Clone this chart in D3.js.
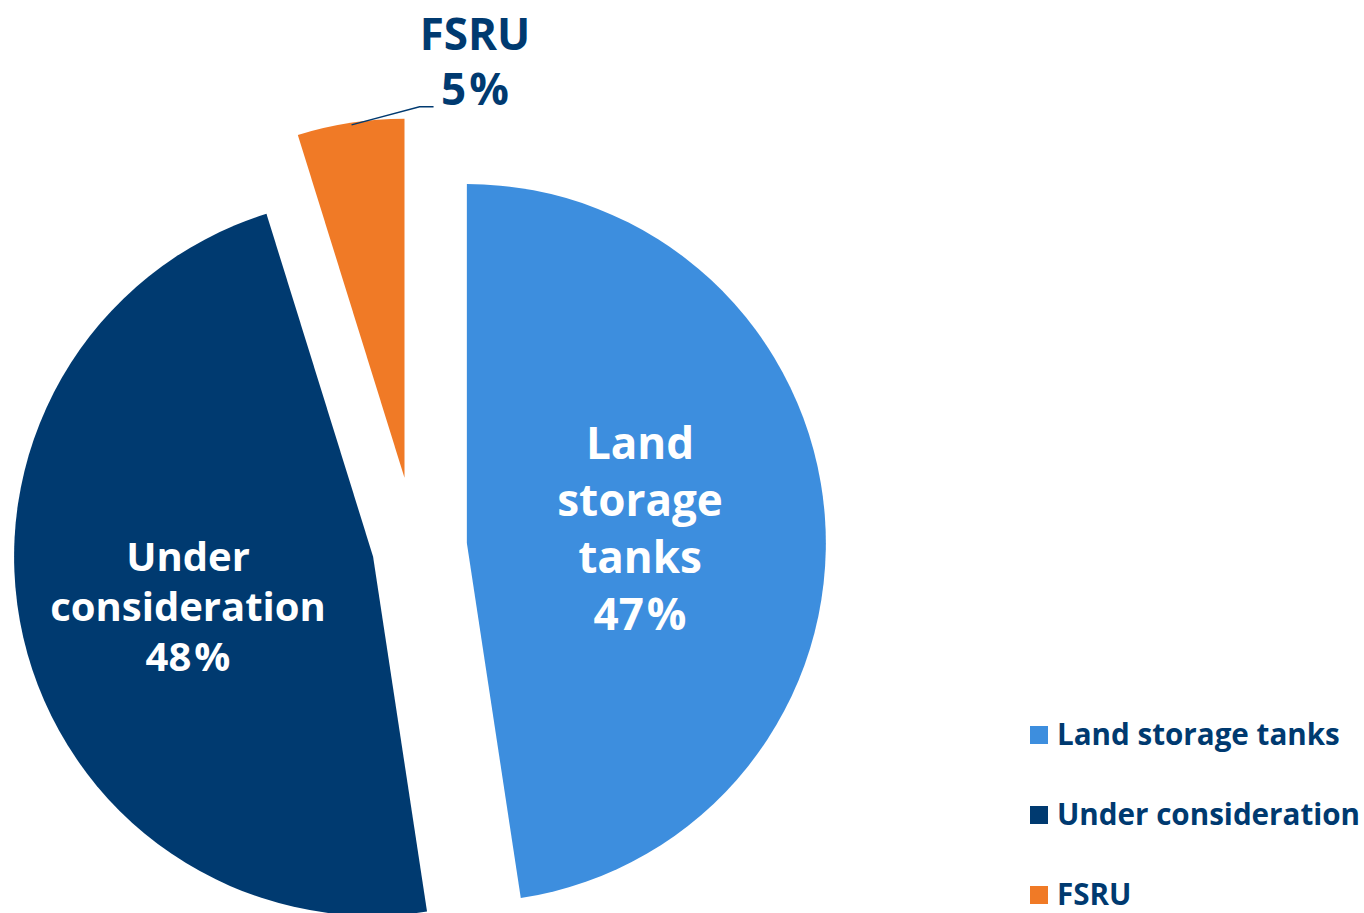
<!DOCTYPE html>
<html>
<head>
<meta charset="utf-8">
<script src="https://cdn.jsdelivr.net/npm/d3@7"></script>
<style>
  body { margin: 0; background: #fff; }
  svg { display: block; font-family: "Open Sans", sans-serif; font-weight: 700; }
</style>
</head>
<body>
<svg width="1364" height="913"></svg>
<script>
// shares, labels as printed on the chart
var categories = ["Land storage tanks", "Under consideration", "FSRU"];
var values = [47.6, 47.6, 4.8];
var percentLabels = ["47", "48", "5"];
var sliceLabels = [["Land", "storage", "tanks"], ["Under", "consideration"], ["FSRU"]];
var explode = [52, 43, 70];

var colors = ["#3d8ede", "#003a70", "#f07a26"];
var NAVY = "#003a70";

var svg = d3.select("svg"),
    width = +svg.attr("width"),
    height = +svg.attr("height");

var cx = 415, cy = 547, radius = 359;

var data = categories.map(function(c, i) {
  return { name: c, value: values[i], pct: percentLabels[i], lines: sliceLabels[i], explode: explode[i], color: colors[i] };
});

var pie = d3.pie()
    .sort(null)
    .value(function(d) { return d.value; });

var arc = d3.arc()
    .innerRadius(0)
    .outerRadius(radius);

var arcs = pie(data);

function offset(d) {
  var a = (d.startAngle + d.endAngle) / 2;
  return [Math.sin(a) * d.data.explode, -Math.cos(a) * d.data.explode];
}

var g = svg.append("g")
    .attr("transform", "translate(" + cx + "," + cy + ")");

var slice = g.selectAll("g.slice")
  .data(arcs)
  .enter().append("g")
    .attr("class", "slice")
    .attr("transform", function(d) { var o = offset(d); return "translate(" + o[0] + "," + o[1] + ")"; });

slice.append("path")
    .attr("d", arc)
    .attr("fill", function(d) { return d.data.color; });

// percent line: number, then a slightly spaced % sign
function pctLine(tspan, num) {
  tspan.append("tspan").text(num);
  tspan.append("tspan").attr("dx", 3).text("%");
}

// inside labels for the two big slices
var inside = [
  { i: 0, x: 225, y: -88, size: 44, lh: 57 },
  { i: 1, x: -227, y: 24, size: 40, lh: 50 }
];

inside.forEach(function(l) {
  var d = data[l.i];
  var t = g.append("text")
      .attr("text-anchor", "middle")
      .attr("fill", "#fff")
      .attr("font-size", l.size);
  d.lines.forEach(function(s, k) {
    t.append("tspan")
        .attr("x", l.x)
        .attr("y", l.y + k * l.lh)
        .text(s);
  });
  var p = t.append("tspan")
      .attr("x", l.x)
      .attr("y", l.y + d.lines.length * l.lh);
  pctLine(p, d.pct);
});

// FSRU label outside with leader line
var fs = arcs[2];
var fo = offset(fs);
var ang = (fs.startAngle + fs.endAngle) / 2;
var ex = fo[0] + Math.sin(ang) * radius + 1,
    ey = fo[1] - Math.cos(ang) * radius + 2;

g.append("polyline")
    .attr("points", [[ex, ey], [ex + 68, ey - 18], [ex + 82, ey - 18]].map(function(p) { return p.join(","); }).join(" "))
    .attr("fill", "none")
    .attr("stroke", NAVY)
    .attr("stroke-width", 1.5);

var ft = g.append("text")
    .attr("text-anchor", "middle")
    .attr("fill", NAVY)
    .attr("font-size", 44);
ft.append("tspan").attr("x", 60).attr("y", -497).text(data[2].lines[0]);
pctLine(ft.append("tspan").attr("x", 60).attr("y", -442), data[2].pct);

// legend
var legend = svg.append("g")
    .attr("transform", "translate(1030,735)");

var item = legend.selectAll("g")
  .data(data)
  .enter().append("g")
    .attr("transform", function(d, i) { return "translate(0," + i * 80 + ")"; });

item.append("rect")
    .attr("x", 0)
    .attr("y", -9)
    .attr("width", 18)
    .attr("height", 18)
    .attr("fill", function(d) { return d.color; });

item.append("text")
    .attr("x", 27)
    .attr("y", 10)
    .attr("fill", NAVY)
    .attr("font-size", 29.6)
    .text(function(d) { return d.name; });
</script>
</body>
</html>
